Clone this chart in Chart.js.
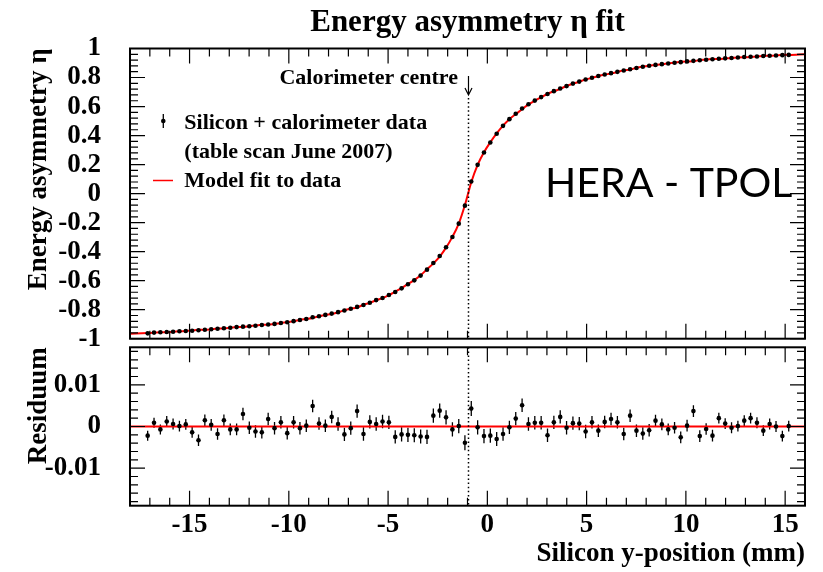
<!DOCTYPE html>
<html>
<head>
<meta charset="utf-8">
<script src="https://cdn.jsdelivr.net/npm/chart.js@4.4.1/dist/chart.umd.min.js"></script>
<style>
  html, body { margin: 0; padding: 0; background: #fff; }
  #wrap { position: relative; width: 823px; height: 572px; }
  #top { position: absolute; left: 0; top: 0; z-index: 2; }
  #bot { position: absolute; left: 0; top: 341px; z-index: 1; }
</style>
</head>
<body>
<div id="wrap">
  <canvas id="top" width="823" height="372"></canvas>
  <canvas id="bot" width="823" height="231"></canvas>
</div>
<script>
// table scan positions (mm)
var posX = [-17.11, -16.79, -16.47, -16.15, -15.83, -15.51, -15.19, -14.87, -14.55, -14.23,
  -13.91, -13.59, -13.27, -12.95, -12.63, -12.31, -11.99, -11.68, -11.36, -11.04,
  -10.72, -10.40, -10.08, -9.76, -9.44, -9.12, -8.80, -8.48, -8.16, -7.84,
  -7.52, -7.20, -6.88, -6.56, -6.24, -5.92, -5.60, -5.28, -4.96, -4.64,
  -4.32, -4.00, -3.68, -3.36, -3.04, -2.72, -2.40, -2.08, -1.76, -1.44,
  -1.13, -0.81, -0.49, -0.17, 0.15, 0.47, 0.79, 1.11, 1.43, 1.75,
  2.07, 2.39, 2.71, 3.03, 3.35, 3.67, 3.99, 4.31, 4.63, 4.95,
  5.27, 5.59, 5.91, 6.23, 6.55, 6.87, 7.19, 7.51, 7.83, 8.15,
  8.47, 8.79, 9.11, 9.43, 9.74, 10.06, 10.38, 10.70, 11.02, 11.34,
  11.66, 11.98, 12.30, 12.62, 12.94, 13.26, 13.58, 13.90, 14.22, 14.54,
  14.86, 15.18];

// measured energy asymmetry
var eta = [-0.963, -0.958, -0.956, -0.954, -0.952, -0.949, -0.947, -0.945, -0.942, -0.938,
  -0.935, -0.931, -0.928, -0.925, -0.920, -0.917, -0.914, -0.911, -0.906, -0.902,
  -0.898, -0.892, -0.887, -0.879, -0.871, -0.864, -0.852, -0.845, -0.836, -0.827,
  -0.817, -0.806, -0.794, -0.781, -0.768, -0.752, -0.734, -0.719, -0.699, -0.678,
  -0.653, -0.625, -0.598, -0.565, -0.524, -0.478, -0.430, -0.370, -0.299, -0.207,
  -0.083, 0.083, 0.198, 0.283, 0.352, 0.412, 0.467, 0.513, 0.550, 0.586,
  0.616, 0.641, 0.665, 0.686, 0.706, 0.724, 0.741, 0.758, 0.772, 0.786,
  0.798, 0.810, 0.821, 0.830, 0.839, 0.848, 0.857, 0.866, 0.874, 0.881,
  0.887, 0.892, 0.897, 0.902, 0.906, 0.911, 0.915, 0.919, 0.922, 0.926,
  0.929, 0.932, 0.935, 0.938, 0.941, 0.943, 0.945, 0.948, 0.950, 0.952,
  0.954, 0.956];

// data - fit
var resid = [-0.0022, 0.0009, -0.0007, 0.0012, 0.0006, 0.0001, 0.0005, -0.0014, -0.0033, 0.0015,
  0.0004, -0.0018, 0.0015, -0.0007, -0.0007, 0.0030, -0.0003, -0.0012, -0.0014, 0.0018,
  -0.0004, 0.0010, -0.0016, 0.0010, -0.0004, 0.0002, 0.0049, 0.0007, 0.0002, 0.0023,
  0.0006, -0.0019, -0.0004, 0.0037, -0.0018, 0.0011, 0.0006, 0.0012, 0.0010, -0.0025,
  -0.0019, -0.0020, -0.0021, -0.0024, -0.0025, 0.0026, 0.0038, 0.0022, -0.0007, 0.0001,
  -0.0039, 0.0043, -0.0002, -0.0023, -0.0022, -0.0030, -0.0018, -0.0002, 0.0019, 0.0051,
  0.0006, 0.0009, 0.0009, -0.0021, 0.0010, 0.0023, -0.0003, 0.0008, 0.0007, -0.0012,
  0.0010, -0.0010, 0.0011, 0.0018, 0.0010, -0.0018, 0.0026, -0.0010, -0.0017, -0.0009,
  0.0014, 0.0005, -0.0007, -0.0003, -0.0026, 0.0002, 0.0037, -0.0023, -0.0006, -0.0022,
  0.0020, 0.0007, -0.0003, 0.0001, 0.0014, 0.0020, 0.0009, -0.0010, 0.0006, 0.0000,
  -0.0023, 0.0001];

// statistical errors
var errs = [0.0012, 0.0012, 0.0012, 0.0013, 0.0013, 0.0013, 0.0013, 0.0013, 0.0014, 0.0014,
  0.0014, 0.0014, 0.0014, 0.0014, 0.0014, 0.0015, 0.0015, 0.0015, 0.0015, 0.0015,
  0.0015, 0.0015, 0.0015, 0.0015, 0.0015, 0.0015, 0.0015, 0.0015, 0.0015, 0.0015,
  0.0016, 0.0016, 0.0016, 0.0016, 0.0016, 0.0016, 0.0016, 0.0016, 0.0016, 0.0016,
  0.0017, 0.0017, 0.0017, 0.0017, 0.0017, 0.0017, 0.0017, 0.0017, 0.0017, 0.0017,
  0.0018, 0.0018, 0.0017, 0.0017, 0.0017, 0.0017, 0.0016, 0.0016, 0.0016, 0.0016,
  0.0016, 0.0016, 0.0016, 0.0016, 0.0016, 0.0016, 0.0016, 0.0016, 0.0016, 0.0016,
  0.0015, 0.0015, 0.0015, 0.0015, 0.0015, 0.0015, 0.0015, 0.0015, 0.0015, 0.0015,
  0.0014, 0.0014, 0.0014, 0.0014, 0.0014, 0.0014, 0.0014, 0.0014, 0.0014, 0.0014,
  0.0013, 0.0013, 0.0013, 0.0013, 0.0013, 0.0013, 0.0013, 0.0013, 0.0013, 0.0013,
  0.0013, 0.0013];

// fit values at the frame edges
var fitEdgeX = [-18, 16];
var fitEdgeEta = [-0.966, 0.961];

var caloCentre = -0.95;

var xTicks = [-15, -10, -5, 0, 5, 10, 15];
var xTickLabels = ['-15', '-10', '-5', '0', '5', '10', '15'];
var etaTicks = [-1, -0.8, -0.6, -0.4, -0.2, 0, 0.2, 0.4, 0.6, 0.8, 1];
var etaTickLabels = ['-1', '-0.8', '-0.6', '-0.4', '-0.2', '0', '0.2', '0.4', '0.6', '0.8', '1'];
var resTicks = [-0.01, 0, 0.01];
var resTickLabels = ['-0.01', '0', '0.01'];

var SERIF = "'Liberation Serif', 'Times New Roman', serif";
var RED = '#ff0000';

// ROOT style frame with inward ticks on every side
function drawFrame(chart, yMinor) {
    var ctx = chart.ctx, a = chart.chartArea;
    var xs = chart.scales.x, ys = chart.scales.y;
    ctx.save();
    ctx.strokeStyle = '#000';
    ctx.lineWidth = 1.2;
    ctx.beginPath();
    for (var v = -18; v <= 16; v++) {
        var px = xs.getPixelForValue(v);
        var len = (v % 5 === 0) ? 15 : 8;
        ctx.moveTo(px, a.top); ctx.lineTo(px, a.top + len);
        ctx.moveTo(px, a.bottom); ctx.lineTo(px, a.bottom - len);
    }
    var k0 = Math.ceil(ys.min / yMinor - 1e-6), k1 = Math.floor(ys.max / yMinor + 1e-6);
    for (var k = k0; k <= k1; k++) {
        var py = ys.getPixelForValue(k * yMinor);
        var l = (k % 5 === 0) ? 15 : 8;
        ctx.moveTo(a.left, py); ctx.lineTo(a.left + l, py);
        ctx.moveTo(a.right, py); ctx.lineTo(a.right - l, py);
    }
    ctx.stroke();
    ctx.lineWidth = 2;
    ctx.strokeRect(a.left, a.top, a.right - a.left, a.bottom - a.top);
    ctx.restore();
}

function drawErrors(chart, values) {
    var ctx = chart.ctx, xs = chart.scales.x, ys = chart.scales.y;
    ctx.save();
    ctx.strokeStyle = '#000';
    ctx.lineWidth = 1.3;
    ctx.beginPath();
    posX.forEach(function (x, i) {
        var px = xs.getPixelForValue(x);
        ctx.moveTo(px, ys.getPixelForValue(values[i] - errs[i]));
        ctx.lineTo(px, ys.getPixelForValue(values[i] + errs[i]));
    });
    ctx.stroke();
    ctx.restore();
}

function drawCentreLine(chart, fromY) {
    var ctx = chart.ctx, a = chart.chartArea;
    var px = chart.scales.x.getPixelForValue(caloCentre);
    ctx.save();
    ctx.strokeStyle = '#000';
    ctx.lineWidth = 1.5;
    ctx.setLineDash([1.5, 2.6]);
    ctx.beginPath();
    ctx.moveTo(px, fromY == null ? a.top : fromY);
    ctx.lineTo(px, a.bottom);
    ctx.stroke();
    ctx.restore();
    return px;
}

// keep the frame where it is: no extra room for end labels
function fixWidth(s) {
    s.width = 130;
    s.paddingTop = 0; s.paddingBottom = 0;
}
function fixHeight(s) {
    s.height = 66.3;
    s.paddingLeft = 0; s.paddingRight = 0;
}

var topPlugin = {
    id: 'topDecor',
    beforeDatasetsDraw: function (chart) {
        drawErrors(chart, eta);
    },
    afterDraw: function (chart) {
        var ctx = chart.ctx;
        var px = drawCentreLine(chart, 98);
        ctx.save();
        // arrow
        ctx.strokeStyle = '#000';
        ctx.lineWidth = 1.2;
        ctx.beginPath();
        ctx.moveTo(px, 76); ctx.lineTo(px, 95);
        ctx.moveTo(px - 3.5, 88); ctx.lineTo(px, 95); ctx.lineTo(px + 3.5, 88);
        ctx.stroke();
        ctx.fillStyle = '#000';
        ctx.font = 'bold 22px ' + SERIF;
        ctx.textAlign = 'right';
        ctx.textBaseline = 'alphabetic';
        ctx.fillText('Calorimeter centre', px - 10.5, 84.3);
        // legend
        ctx.textAlign = 'left';
        ctx.fillText('Silicon + calorimeter data', 184.3, 129.3);
        ctx.fillText('(table scan June 2007)', 184.3, 158);
        ctx.fillText('Model fit to data', 184.3, 187);
        ctx.beginPath();
        ctx.lineWidth = 1.3;
        ctx.moveTo(163.3, 114); ctx.lineTo(163.3, 128);
        ctx.stroke();
        ctx.beginPath();
        ctx.arc(163.3, 121, 2.3, 0, Math.PI * 2);
        ctx.fill();
        ctx.strokeStyle = RED;
        ctx.lineWidth = 1.5;
        ctx.beginPath();
        ctx.moveTo(153, 180.5); ctx.lineTo(173, 180.5);
        ctx.stroke();
        // label
        ctx.fillStyle = '#000';
        ctx.font = '41px Lato, sans-serif';
        ctx.fillText('HERA - TPOL', 545, 197);
        ctx.restore();
        drawFrame(chart, 0.04);
    }
};

var botPlugin = {
    id: 'botDecor',
    beforeDatasetsDraw: function (chart) {
        drawErrors(chart, resid);
    },
    afterDraw: function (chart) {
        drawCentreLine(chart, null);
        drawFrame(chart, 0.002);
    }
};

var tickFont = { family: SERIF, size: 27, weight: 'bold' };
var titleFont = { family: SERIF, size: 27, weight: 'bold' };

var dataPoints = posX.map(function (x, i) { return { x: x, y: eta[i] }; });
var fitPoints = [{ x: fitEdgeX[0], y: fitEdgeEta[0] }]
    .concat(posX.map(function (x, i) { return { x: x, y: eta[i] - resid[i] }; }))
    .concat([{ x: fitEdgeX[1], y: fitEdgeEta[1] }]);

new Chart(document.getElementById('top'), {
    type: 'scatter',
    data: {
        datasets: [{
            label: 'Model fit to data',
            type: 'line',
            data: fitPoints,
            borderColor: RED,
            borderWidth: 2,
            pointRadius: 0,
            cubicInterpolationMode: 'monotone',
            fill: false,
            order: 2
        }, {
            label: 'Silicon + calorimeter data',
            data: dataPoints,
            backgroundColor: '#000',
            borderColor: '#000',
            pointRadius: 2.3,
            borderWidth: 0,
            order: 1
        }]
    },
    options: {
        responsive: false,
        animation: false,
        events: [],
        layout: { autoPadding: false, padding: { left: 0, right: 18, top: 0, bottom: 33.3 } },
        plugins: {
            legend: { display: false },
            tooltip: { enabled: false },
            title: {
                display: true,
                text: 'Energy asymmetry η fit',
                fullSize: false,
                color: '#000',
                font: { family: SERIF, size: 31, weight: 'bold' },
                padding: { top: 4, bottom: 7.3 }
            }
        },
        scales: {
            x: { type: 'linear', min: -18, max: 16, display: false },
            y: {
                type: 'linear', min: -1, max: 1,
                grid: { display: false },
                border: { display: false },
                afterBuildTicks: function (s) { s.ticks = etaTicks.map(function (v) { return { value: v }; }); },
                afterFit: fixWidth,
                ticks: {
                    color: '#000', font: tickFont, padding: 21, autoSkip: false,
                    callback: function (v, i) { return etaTickLabels[i]; }
                },
                title: {
                    display: true, text: 'Energy asymmetry η', align: 'end',
                    color: '#000', font: titleFont, padding: { top: 22.6, bottom: 0 }
                }
            }
        }
    },
    plugins: [topPlugin]
});

new Chart(document.getElementById('bot'), {
    type: 'scatter',
    data: {
        datasets: [{
            label: 'zero',
            type: 'line',
            data: fitEdgeX.map(function (x) { return { x: x, y: 0 }; }),
            borderColor: RED,
            borderWidth: 2,
            pointRadius: 0,
            order: 2
        }, {
            label: 'Residuum',
            data: posX.map(function (x, i) { return { x: x, y: resid[i] }; }),
            backgroundColor: '#000',
            borderColor: '#000',
            pointRadius: 2.3,
            borderWidth: 0,
            order: 1
        }]
    },
    options: {
        responsive: false,
        animation: false,
        events: [],
        layout: { autoPadding: false, padding: { left: 0, right: 18, top: 6.3, bottom: 0 } },
        plugins: { legend: { display: false }, tooltip: { enabled: false } },
        scales: {
            x: {
                type: 'linear', min: -18, max: 16,
                grid: { display: false },
                border: { display: false },
                afterBuildTicks: function (s) { s.ticks = xTicks.map(function (v) { return { value: v }; }); },
                afterFit: fixHeight,
                ticks: {
                    color: '#000', font: tickFont, padding: -5, maxRotation: 0, autoSkip: false,
                    callback: function (v, i) { return xTickLabels[i]; }
                },
                title: {
                    display: true, text: 'Silicon y-position (mm)', align: 'end',
                    color: '#000', font: titleFont, padding: { top: 0, bottom: 2 }
                }
            },
            y: {
                type: 'linear', min: -0.019, max: 0.019,
                grid: { display: false },
                border: { display: false },
                afterBuildTicks: function (s) { s.ticks = resTicks.map(function (v) { return { value: v }; }); },
                afterFit: fixWidth,
                ticks: {
                    color: '#000', font: tickFont, padding: 21, autoSkip: false,
                    callback: function (v, i) { return resTickLabels[i]; }
                },
                title: {
                    display: true, text: 'Residuum', align: 'end',
                    color: '#000', font: titleFont, padding: { top: 22.6, bottom: 0 }
                }
            }
        }
    },
    plugins: [botPlugin]
});
</script>
</body>
</html>
